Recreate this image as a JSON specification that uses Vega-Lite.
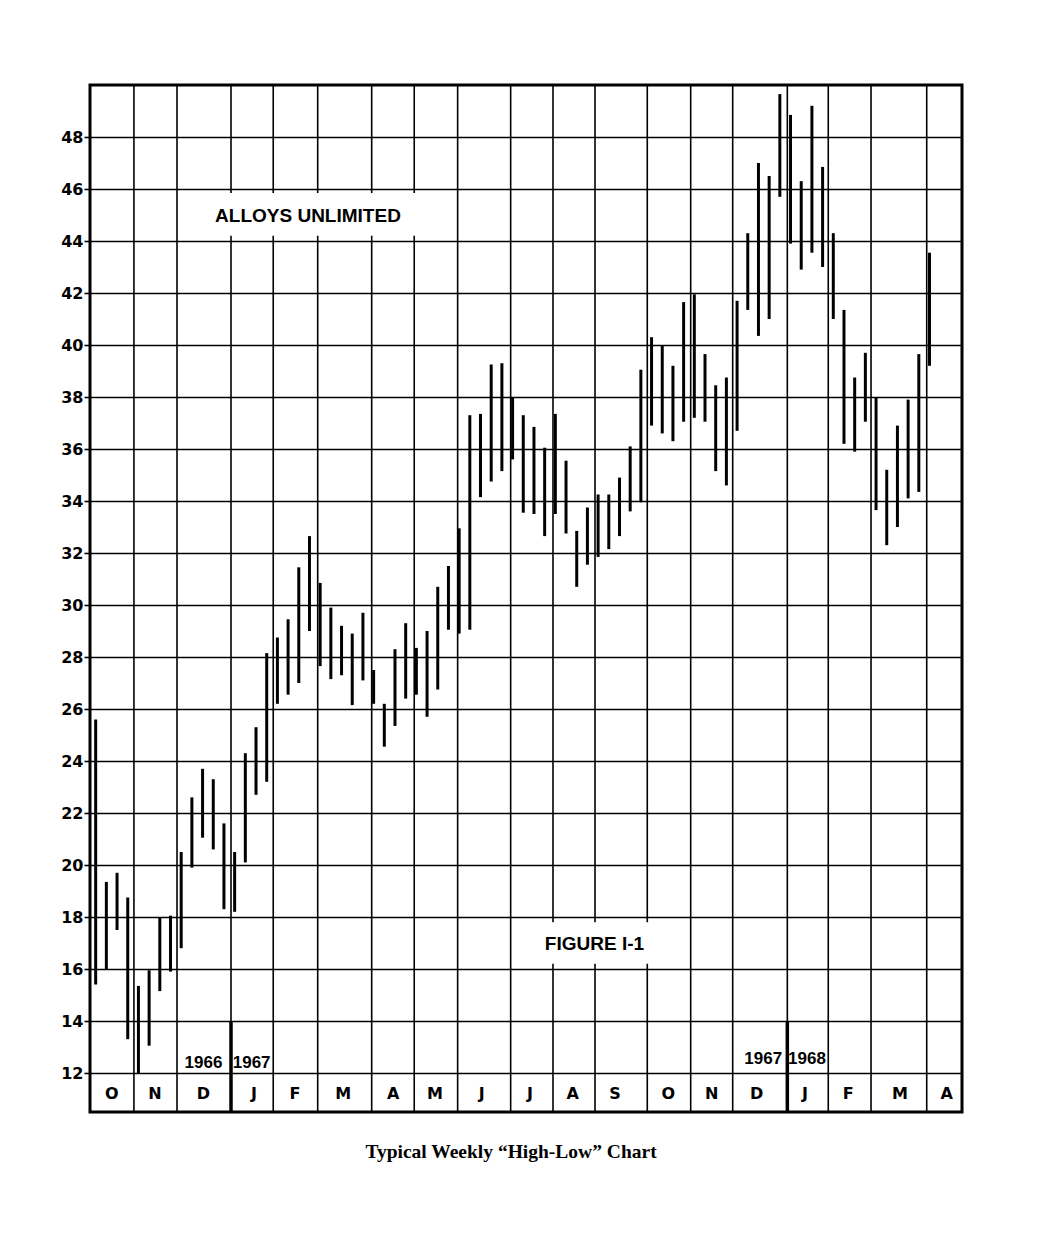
{
  "$schema": "https://vega.github.io/schema/vega-lite/v6.json",
  "width": 872,
  "height": 1027,
  "autosize": {"type": "none"},
  "padding": {"left": 90, "top": 85, "right": 98, "bottom": 138},
  "background": "white",
  "view": {"stroke": "black", "strokeWidth": 3},
  "config": {
    "axisY": {
      "title": null,
      "domain": false,
      "grid": true,
      "gridColor": "black",
      "gridWidth": 1.6,
      "gridOpacity": 1,
      "ticks": true,
      "tickSize": 6,
      "tickColor": "black",
      "tickWidth": 1.6,
      "labelPadding": 1,
      "labelFont": "DejaVu Sans",
      "labelFontWeight": "bold",
      "labelFontSize": 16,
      "labelColor": "black"
    }
  },
  "title": {
    "text": "Typical Weekly \u201cHigh-Low\u201d Chart",
    "orient": "bottom",
    "anchor": "middle",
    "offset": 29,
    "dx": -15,
    "font": "Liberation Serif",
    "fontSize": 19.5,
    "fontWeight": "bold",
    "color": "black"
  },
  "datasets": {
    "bars": [
      {"week": 0, "low": 15.4, "high": 25.6},
      {"week": 1, "low": 16.0, "high": 19.35},
      {"week": 2, "low": 17.5, "high": 19.7},
      {"week": 3, "low": 13.3, "high": 18.75},
      {"week": 4, "low": 12.0, "high": 15.35},
      {"week": 5, "low": 13.05, "high": 15.95},
      {"week": 6, "low": 15.15, "high": 18.0},
      {"week": 7, "low": 15.9, "high": 18.05},
      {"week": 8, "low": 16.8, "high": 20.5},
      {"week": 9, "low": 19.9, "high": 22.6},
      {"week": 10, "low": 21.05, "high": 23.7},
      {"week": 11, "low": 20.6, "high": 23.3},
      {"week": 12, "low": 18.3, "high": 21.6},
      {"week": 13, "low": 18.2, "high": 20.5},
      {"week": 14, "low": 20.1, "high": 24.3},
      {"week": 15, "low": 22.7, "high": 25.3},
      {"week": 16, "low": 23.2, "high": 28.15},
      {"week": 17, "low": 26.2, "high": 28.75},
      {"week": 18, "low": 26.55, "high": 29.45},
      {"week": 19, "low": 27.0, "high": 31.45},
      {"week": 20, "low": 29.0, "high": 32.65},
      {"week": 21, "low": 27.65, "high": 30.85},
      {"week": 22, "low": 27.15, "high": 29.9},
      {"week": 23, "low": 27.3, "high": 29.2},
      {"week": 24, "low": 26.15, "high": 28.9},
      {"week": 25, "low": 27.1, "high": 29.7},
      {"week": 26, "low": 26.2, "high": 27.5},
      {"week": 27, "low": 24.55, "high": 26.2},
      {"week": 28, "low": 25.35, "high": 28.3},
      {"week": 29, "low": 26.4, "high": 29.3},
      {"week": 30, "low": 26.55, "high": 28.35},
      {"week": 31, "low": 25.7, "high": 29.0},
      {"week": 32, "low": 26.75, "high": 30.7},
      {"week": 33, "low": 29.05, "high": 31.5},
      {"week": 34, "low": 28.9, "high": 32.95},
      {"week": 35, "low": 29.05, "high": 37.3},
      {"week": 36, "low": 34.15, "high": 37.35},
      {"week": 37, "low": 34.75, "high": 39.25},
      {"week": 38, "low": 35.15, "high": 39.3},
      {"week": 39, "low": 35.6, "high": 38.0},
      {"week": 40, "low": 33.55, "high": 37.3},
      {"week": 41, "low": 33.5, "high": 36.85},
      {"week": 42, "low": 32.65, "high": 36.05},
      {"week": 43, "low": 33.5, "high": 37.35},
      {"week": 44, "low": 32.75, "high": 35.55},
      {"week": 45, "low": 30.7, "high": 32.85},
      {"week": 46, "low": 31.55, "high": 33.75},
      {"week": 47, "low": 31.85, "high": 34.25},
      {"week": 48, "low": 32.15, "high": 34.25},
      {"week": 49, "low": 32.65, "high": 34.9},
      {"week": 50, "low": 33.6, "high": 36.1},
      {"week": 51, "low": 33.95, "high": 39.05},
      {"week": 52, "low": 36.9, "high": 40.3},
      {"week": 53, "low": 36.6, "high": 40.0},
      {"week": 54, "low": 36.3, "high": 39.2},
      {"week": 55, "low": 37.05, "high": 41.65},
      {"week": 56, "low": 37.2, "high": 41.95},
      {"week": 57, "low": 37.05, "high": 39.65},
      {"week": 58, "low": 35.15, "high": 38.45},
      {"week": 59, "low": 34.6, "high": 38.75},
      {"week": 60, "low": 36.7, "high": 41.7},
      {"week": 61, "low": 41.35, "high": 44.3},
      {"week": 62, "low": 40.35, "high": 47.0},
      {"week": 63, "low": 41.0, "high": 46.5},
      {"week": 64, "low": 45.7, "high": 49.65},
      {"week": 65, "low": 43.9, "high": 48.85},
      {"week": 66, "low": 42.9, "high": 46.3},
      {"week": 67, "low": 43.55, "high": 49.2},
      {"week": 68, "low": 43.0, "high": 46.85},
      {"week": 69, "low": 41.0, "high": 44.3},
      {"week": 70, "low": 36.2, "high": 41.35},
      {"week": 71, "low": 35.9, "high": 38.75},
      {"week": 72, "low": 37.05, "high": 39.7},
      {"week": 73, "low": 33.65, "high": 38.0},
      {"week": 74, "low": 32.3, "high": 35.2},
      {"week": 75, "low": 33.0, "high": 36.9},
      {"week": 76, "low": 34.1, "high": 37.9},
      {"week": 77, "low": 34.35, "high": 39.65},
      {"week": 78, "low": 39.2, "high": 43.55}
    ],
    "monthLines": [
      {"edge": 3.58}, {"edge": 7.61}, {"edge": 12.66}, {"edge": 16.61},
      {"edge": 20.77}, {"edge": 25.82}, {"edge": 29.8}, {"edge": 33.86},
      {"edge": 38.82}, {"edge": 42.78}, {"edge": 46.71}, {"edge": 51.6},
      {"edge": 55.66}, {"edge": 59.59}, {"edge": 64.7}, {"edge": 68.53},
      {"edge": 72.53}, {"edge": 77.74}
    ],
    "yearLines": [
      {"edge": 12.66, "from": 10.5, "to": 14},
      {"edge": 64.7, "from": 10.5, "to": 14}
    ],
    "months": [
      {"m": "O", "pos": 1.5}, {"m": "N", "pos": 5.55}, {"m": "D", "pos": 10.07},
      {"m": "J", "pos": 14.8}, {"m": "F", "pos": 18.64}, {"m": "M", "pos": 23.16},
      {"m": "A", "pos": 27.84}, {"m": "M", "pos": 31.74}, {"m": "J", "pos": 36.11},
      {"m": "J", "pos": 40.63}, {"m": "A", "pos": 44.62}, {"m": "S", "pos": 48.58},
      {"m": "O", "pos": 53.56}, {"m": "N", "pos": 57.62}, {"m": "D", "pos": 61.83},
      {"m": "J", "pos": 66.35}, {"m": "F", "pos": 70.4}, {"m": "M", "pos": 75.24},
      {"m": "A", "pos": 79.61}
    ],
    "years": [
      {"label": "1966", "pos": 10.08, "lvl": 12.4},
      {"label": "1967", "pos": 14.59, "lvl": 12.4},
      {"label": "1967", "pos": 62.45, "lvl": 12.52},
      {"label": "1968", "pos": 66.54, "lvl": 12.52}
    ],
    "boxes": [
      {"name": "ALLOYS UNLIMITED", "x1": 7.9, "x2": 32.2, "y1": 44.2, "y2": 45.85, "cx": 19.86, "cy": 44.95},
      {"name": "FIGURE I-1", "x1": 40.6, "x2": 53.7, "y1": 16.2, "y2": 17.8, "cx": 46.66, "cy": 16.97}
    ]
  },
  "layer": [
    {
      "data": {"name": "monthLines"},
      "mark": {"type": "rule", "color": "black", "strokeWidth": 1.6},
      "encoding": {
        "x": {"field": "edge", "type": "quantitative", "axis": null,
              "scale": {"domain": [-0.53, 81.04], "nice": false, "zero": false}}
      }
    },
    {
      "data": {"name": "yearLines"},
      "mark": {"type": "rule", "color": "black", "strokeWidth": 3.5},
      "encoding": {
        "x": {"field": "edge", "type": "quantitative", "axis": null},
        "y": {"field": "from", "type": "quantitative", "title": null,
              "scale": {"domain": [10.5, 50], "nice": false, "zero": false},
              "axis": {"values": [12, 14, 16, 18, 20, 22, 24, 26, 28, 30, 32, 34, 36, 38, 40, 42, 44, 46, 48]}},
        "y2": {"field": "to"}
      }
    },
    {
      "data": {"name": "boxes"},
      "mark": {"type": "rect", "color": "white"},
      "encoding": {
        "x": {"field": "x1", "type": "quantitative", "axis": null},
        "x2": {"field": "x2"},
        "y": {"field": "y1", "type": "quantitative", "title": null},
        "y2": {"field": "y2"}
      }
    },
    {
      "data": {"name": "bars"},
      "mark": {"type": "rule", "color": "black", "strokeWidth": 3},
      "encoding": {
        "x": {"field": "week", "type": "quantitative", "axis": null},
        "y": {"field": "low", "type": "quantitative", "title": null},
        "y2": {"field": "high"}
      }
    },
    {
      "data": {"name": "months"},
      "mark": {"type": "text", "font": "DejaVu Sans", "fontWeight": "bold", "fontSize": 16, "color": "black", "baseline": "middle", "align": "center"},
      "encoding": {
        "x": {"field": "pos", "type": "quantitative", "axis": null},
        "y": {"datum": 11.2, "type": "quantitative", "title": null},
        "text": {"field": "m"}
      }
    },
    {
      "data": {"name": "years"},
      "mark": {"type": "text", "font": "Liberation Sans", "fontWeight": "bold", "fontSize": 17, "color": "black", "baseline": "middle", "align": "center"},
      "encoding": {
        "x": {"field": "pos", "type": "quantitative", "axis": null},
        "y": {"field": "lvl", "type": "quantitative", "title": null},
        "text": {"field": "label"}
      }
    },
    {
      "data": {"name": "boxes"},
      "mark": {"type": "text", "font": "Liberation Sans", "fontWeight": "bold", "fontSize": 19, "color": "black", "baseline": "middle", "align": "center"},
      "encoding": {
        "x": {"field": "cx", "type": "quantitative", "axis": null},
        "y": {"field": "cy", "type": "quantitative", "title": null},
        "text": {"field": "name"}
      }
    }
  ]
}
